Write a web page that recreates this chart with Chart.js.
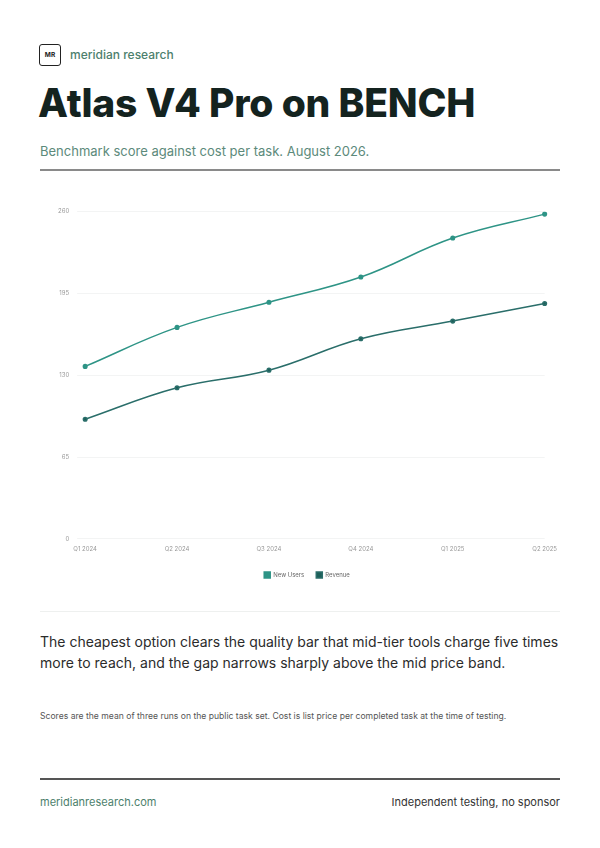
<!DOCTYPE html>
<html>
<head>
<meta charset="utf-8">
<script src="https://cdn.jsdelivr.net/npm/chart.js@4"></script>
<style>
  body { margin: 0; background: #fff; font-family: Inter, "Noto Sans", sans-serif; }
  .page { position: relative; width: 600px; height: 848px; }
  .logo { position: absolute; left: 39px; top: 44px; width: 20px; height: 20px; border: 1.3px solid #222; border-radius: 3px;
          font-size: 6.5px; font-weight: 700; display: flex; align-items: center; justify-content: center; color: #222; }
  .brand { position: absolute; left: 70px; top: 47px; font-size: 12px; color: #4d7f6d; font-weight: 500; }
  h1 { position: absolute; left: 38px; top: 79px; margin: 0; font-size: 39px; font-weight: 800; color: #14231f; letter-spacing: -0.2px; }
  .sub { position: absolute; left: 40px; top: 143px; font-size: 13px; color: #5c8a7b; }
  .rule1 { position: absolute; left: 40px; top: 169px; width: 520px; height: 2px; background: #8a8a8a; }
  .chart { position: absolute; left: 40px; top: 200px; width: 524px; height: 388px; }
  .rule2 { position: absolute; left: 40px; top: 611px; width: 520px; height: 1px; background: #eef0ef; }
  .take { position: absolute; left: 40px; top: 631px; width: 535px; font-size: 14px; line-height: 21px; color: #2b2b2b; }
  .note { position: absolute; left: 40px; top: 711px; font-size: 8.6px; color: #555; }
  .rule3 { position: absolute; left: 40px; top: 778px; width: 520px; height: 1.5px; background: #555; }
  .foot-l { position: absolute; left: 40px; top: 795px; font-size: 11px; color: #4d7f6d; }
  .foot-r { position: absolute; right: 40px; top: 795px; font-size: 11px; color: #333; }
</style>
</head>
<body>
<div class="page">
  <div class="logo">MR</div>
  <div class="brand">meridian research</div>
  <h1>Atlas V4 Pro on BENCH</h1>
  <div class="sub">Benchmark score against cost per task. August 2026.</div>
  <div class="rule1"></div>
  <div class="chart"><canvas id="c"></canvas></div>
  <div class="rule2"></div>
  <div class="take">The cheapest option clears the quality bar that mid-tier tools charge five times more to reach, and the gap narrows sharply above the mid price band.</div>
  <div class="note">Scores are the mean of three runs on the public task set. Cost is list price per completed task at the time of testing.</div>
  <div class="rule3"></div>
  <div class="foot-l">meridianresearch.com</div>
  <div class="foot-r">Independent testing, no sponsor</div>
</div>
<script>
const quarters = ['Q1 2024', 'Q2 2024', 'Q3 2024', 'Q4 2024', 'Q1 2025', 'Q2 2025'];
const newUsers = [137, 168, 188, 208, 239, 258];
const revenue = [95, 120, 134, 159, 173, 187];
const yTicks = [0, 65, 130, 195, 260];

const ctx = document.getElementById('c').getContext('2d');
new Chart(ctx, {
  type: 'line',
  data: {
    labels: quarters,
    datasets: [
      {
        label: 'New Users',
        data: newUsers,
        borderColor: '#2e9486',
        backgroundColor: '#2e9486',
        borderWidth: 1.5,
        pointRadius: 1.8,
        tension: 0.4
      },
      {
        label: 'Revenue',
        data: revenue,
        borderColor: '#2a6e6a',
        backgroundColor: '#1d5f59',
        borderWidth: 1.5,
        pointRadius: 1.8,
        tension: 0.4
      }
    ]
  },
  options: {
    responsive: true,
    maintainAspectRatio: false,
    animation: false,
    layout: { padding: { left: 10, right: 0, top: 6, bottom: 0 } },
    plugins: {
      legend: {
        position: 'bottom',
        labels: { boxWidth: 6, boxHeight: 6, font: { size: 6, family: 'Inter' }, color: '#666', padding: 12 }
      },
      tooltip: { enabled: false }
    },
    scales: {
      x: {
        grid: { display: false, drawTicks: false },
        border: { display: false },
        ticks: { font: { size: 6, family: 'Inter' }, color: '#999', maxRotation: 0, padding: 7 }
      },
      y: {
        min: 0,
        max: 260,
        afterBuildTicks: (axis) => { axis.ticks = yTicks.map(v => ({ value: v })); },
        grid: { color: '#f3f4f4' },
        border: { display: false },
        ticks: { font: { size: 6, family: 'Inter' }, color: '#999', padding: 8 }
      }
    }
  }
});
</script>
</body>
</html>
